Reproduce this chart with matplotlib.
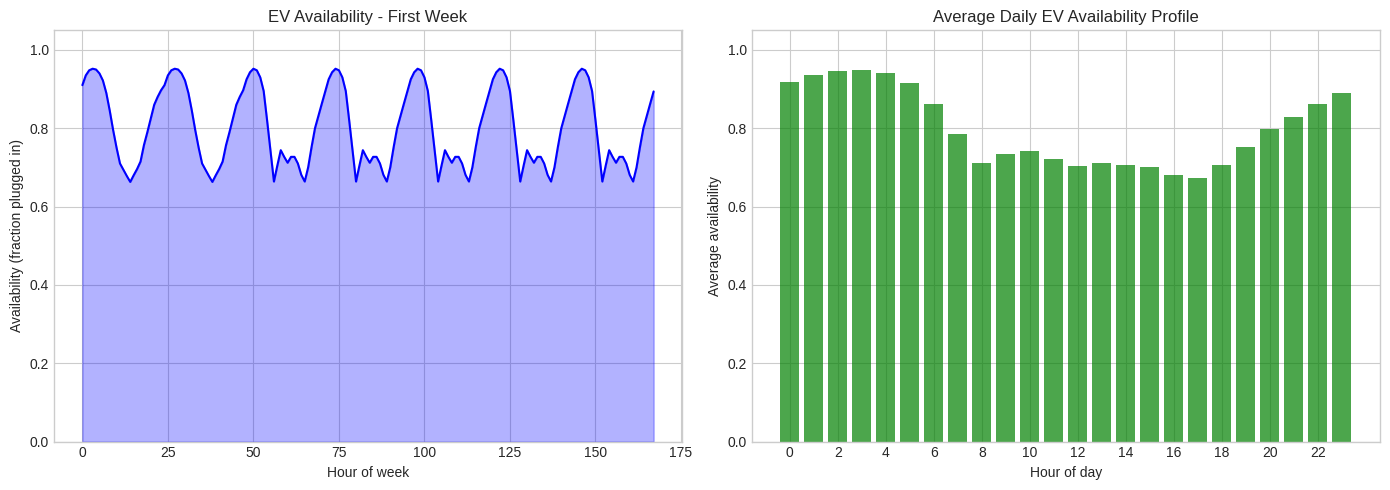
import numpy as np
import matplotlib
matplotlib.use('Agg')
from matplotlib import pyplot as plt

# hourly availability profiles
weekday_profile = [0.925, 0.943, 0.952, 0.948, 0.930, 0.895, 0.820, 0.742,
                   0.664, 0.705, 0.744, 0.727, 0.712, 0.727, 0.727, 0.710,
                   0.681, 0.664, 0.700, 0.752, 0.800, 0.832, 0.863, 0.894]
weekend_profile = [0.910, 0.935, 0.948, 0.952, 0.950, 0.940, 0.922, 0.890,
                   0.845, 0.795, 0.750, 0.710, 0.694, 0.678, 0.663, 0.680,
                   0.696, 0.715, 0.757, 0.790, 0.825, 0.860, 0.880, 0.897]
first_week_days = ['weekend', 'weekend', 'weekday', 'weekday', 'weekday', 'weekday', 'weekday']

# average daily profile (bars)
hours_of_day = list(range(24))
avg_availability = [0.919, 0.937, 0.947, 0.949, 0.942, 0.916, 0.863, 0.785,
                    0.711, 0.734, 0.742, 0.722, 0.704, 0.711, 0.706, 0.701,
                    0.681, 0.673, 0.706, 0.752, 0.797, 0.830, 0.863, 0.891]

profiles = {'weekday': weekday_profile, 'weekend': weekend_profile}
week = np.concatenate([profiles[d] for d in first_week_days])
hours = np.arange(len(week))

plt.style.use('seaborn-v0_8-whitegrid')
fig, (ax1, ax2) = plt.subplots(1, 2, figsize=(14, 5), dpi=100)

ax1.plot(hours, week, color='blue', linewidth=1.5)
ax1.fill_between(hours, 0, week, color='blue', alpha=0.3)
ax1.set_title('EV Availability - First Week')
ax1.set_xlabel('Hour of week')
ax1.set_ylabel('Availability (fraction plugged in)')
ax1.set_ylim(0, 1.05)

ax2.bar(hours_of_day, avg_availability, color='green', alpha=0.7)
ax2.set_title('Average Daily EV Availability Profile')
ax2.set_xlabel('Hour of day')
ax2.set_ylabel('Average availability')
ax2.set_xticks(range(0, 24, 2))
ax2.set_ylim(0, 1.05)

for ax in (ax1, ax2):
    for s in ax.spines.values():
        s.set_visible(True)
        s.set_color('#cccccc')

plt.tight_layout()
plt.savefig('out.png', bbox_inches='tight')
